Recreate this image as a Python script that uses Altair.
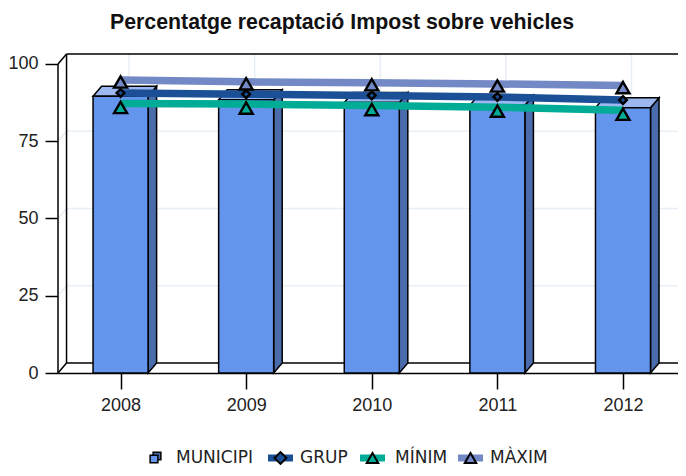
import altair as alt
import pandas as pd

TITLE = "Percentatge recaptació Impost sobre vehicles"
years = [2008, 2009, 2010, 2011, 2012]
municipi = [89.5, 88.4, 87.5, 86.6, 85.8]
grup = [90.6, 90.2, 89.8, 89.3, 88.3]
minim = [87.2, 87.0, 86.5, 86.0, 85.0]
maxim = [94.8, 94.2, 93.9, 93.5, 93.0]
y_ticks = [0, 25, 50, 75, 100]

C_FRONT, C_SIDE, C_TOP = "#6495ed", "#4a6cab", "#9db8f1"
C_GRUP, C_MIN, C_MAX = "#1b4f96", "#00ac96", "#7389c6"
C_GRID = "#e9eff6"

XMIN, XMAX = 2007.502, 2012.438
YMAX = 103.2
DX, DY = 0.068, 3.24   # 3-D depth in data units
HALF = 0.219
xs = alt.Scale(domain=[XMIN, XMAX], nice=False, zero=False)
ys = alt.Scale(domain=[0, YMAX], nice=False)
X = lambda f: alt.X(f, type="quantitative", scale=xs, title=None)
Y = lambda f: alt.Y(f, type="quantitative", scale=ys, title=None)

def rules(rows, color, width):
    df = pd.DataFrame(rows, columns=["a", "b", "a2", "b2"])
    return alt.Chart(df).mark_rule(color=color, strokeWidth=width).encode(
        x=X("a"), y=Y("b"), x2="a2", y2="b2")

grid_rows = []
for v in y_ticks[1:-1]:
    grid_rows.append((XMIN, v, XMIN + DX, v + DY))
    grid_rows.append((XMIN + DX, v + DY, XMAX, v + DY))
for yr in years:
    grid_rows.append((yr + DX, DY, yr + DX, YMAX))
grid = rules(grid_rows, C_GRID, 1.5)

frame = rules([
    (XMIN, 0, XMIN, 100),
    (XMIN, 0, XMIN + DX, DY),
    (XMIN, 100, XMIN + DX, YMAX),
    (XMIN + DX, DY, XMIN + DX, YMAX),
    (XMIN + DX, YMAX, XMAX, YMAX),
    (XMIN + DX, DY, XMAX, DY),
], "black", 1.5)

axes = alt.Chart(pd.DataFrame({"a": years, "b": [0] * 5})).mark_point(opacity=0).encode(
    x=alt.X("a:Q", scale=xs, title=None,
            axis=alt.Axis(values=years, format="d", grid=False, domainColor="black", domainWidth=1.5,
                          tickColor="black", tickWidth=1.5, tickSize=16, labelPadding=7,
                          labelFont="Liberation Sans", labelFontSize=18, labelColor="#222")),
    y=alt.Y("b:Q", scale=ys, title=None,
            axis=alt.Axis(values=y_ticks, grid=False, domain=False,
                          tickColor="black", tickWidth=1.5, tickSize=13, labelPadding=7,
                          labelFont="Liberation Sans", labelFontSize=18, labelColor="#222")),
)

side_rows, top_rows, front_rows = [], [], []
for yr, v in zip(years, municipi):
    l, r = yr - HALF, yr + HALF
    front_rows.append(dict(l=l, r=r, v=v))
    side_rows += [dict(yr=yr, a=r, lo=0, hi=v), dict(yr=yr, a=r + DX, lo=DY, hi=v + DY)]
    top_rows += [dict(yr=yr, a=l, lo=v, hi=v), dict(yr=yr, a=l + DX, lo=v, hi=v + DY),
                 dict(yr=yr, a=r, lo=v, hi=v + DY), dict(yr=yr, a=r + DX, lo=v + DY, hi=v + DY)]

def faces(rows, color):
    return alt.Chart(pd.DataFrame(rows)).mark_area(
        orient="vertical", fill=color, stroke="black", strokeWidth=1.5, opacity=1
    ).encode(x=X("a"), y=Y("lo"), y2="hi", detail="yr:N")

side = faces(side_rows, C_SIDE)
top = faces(top_rows, C_TOP)
front = alt.Chart(pd.DataFrame(front_rows)).mark_bar(
    color=C_FRONT, stroke="black", strokeWidth=1.5
).encode(x=X("l"), x2="r", y=alt.Y("v:Q", scale=ys, title=None), y2=alt.datum(0))

def series(vals, color, shape, size, dy):
    df = pd.DataFrame({"a": years, "b": vals})
    base = alt.Chart(df).encode(x=X("a"), y=Y("b"))
    return (base.mark_line(color=color, strokeWidth=7.5),
            base.mark_point(shape=shape, size=size, filled=True, fill=color, stroke="black",
                            strokeWidth=2.4, opacity=1, yOffset=dy))

lmax, pmax = series(maxim, C_MAX, "triangle-up", 170, 2)
lgrup, pgrup = series(grup, C_GRUP, "diamond", 60, 0)
lmin, pmin = series(minim, C_MIN, "triangle-up", 170, 4)

# legend, positioned below the plot area
OX, OY = 58, 54
LY = 458 - OY
leg_names = ["MUNICIPI", "GRUP", "MÍNIM", "MÀXIM"]
leg_text_x = [176, 300, 395, 490]
leg_band = [None, (268, 293), (360, 385), (458, 483)]
leg_colors = [C_FRONT, C_GRUP, C_MIN, C_MAX]
leg_shapes = ["square", "diamond", "triangle-up", "triangle-up"]

legend = []
for name, tx, band, col, sh in zip(leg_names, leg_text_x, leg_band, leg_colors, leg_shapes):
    d = pd.DataFrame({"t": [name]})
    legend.append(alt.Chart(d).mark_text(align="left", baseline="middle", font="DejaVu Sans",
                                         fontSize=17, color="#222").encode(
        x=alt.value(tx - OX), y=alt.value(LY), text="t:N"))
    if band:
        mid = (band[0] + band[1]) / 2
        legend.append(alt.Chart(d).mark_rule(color=col, strokeWidth=7).encode(
            x=alt.value(band[0] - OX), x2=alt.value(band[1] - OX), y=alt.value(LY)))
        legend.append(alt.Chart(d).mark_point(shape=sh, size=130 if sh != "diamond" else 140,
                                              filled=True, fill=col, stroke="black",
                                              strokeWidth=2, opacity=1).encode(
            x=alt.value(mid - OX), y=alt.value(LY)))
    else:
        d2 = alt.Chart(d)
        legend.append(d2.mark_point(shape="square", size=60, filled=True, fill=C_SIDE, stroke="black",
                                    strokeWidth=1.5, opacity=1).encode(
            x=alt.value(157 - OX), y=alt.value(LY - 2)))
        legend.append(d2.mark_point(shape="square", size=60, filled=True, fill=col, stroke="black",
                                    strokeWidth=1.5, opacity=1).encode(
            x=alt.value(154 - OX), y=alt.value(LY + 1)))

chart = alt.layer(
    grid, frame, side, top, front, axes,
    lmax, lgrup, lmin, pgrup, pmax, pmin, *legend
).properties(
    width=620, height=319,
    autosize=alt.AutoSizeParams(type="none"),
    padding={"left": 50, "top": 46, "right": 0, "bottom": 95},
    title=alt.TitleParams(TITLE, font="Liberation Sans", fontSize=21.3, fontWeight="bold", color="#111",
                          anchor="middle", dx=-26, offset=20, limit=0),
).configure_view(stroke=None)

chart.save("out.html", embed_options={"renderer": "svg", "actions": False})
